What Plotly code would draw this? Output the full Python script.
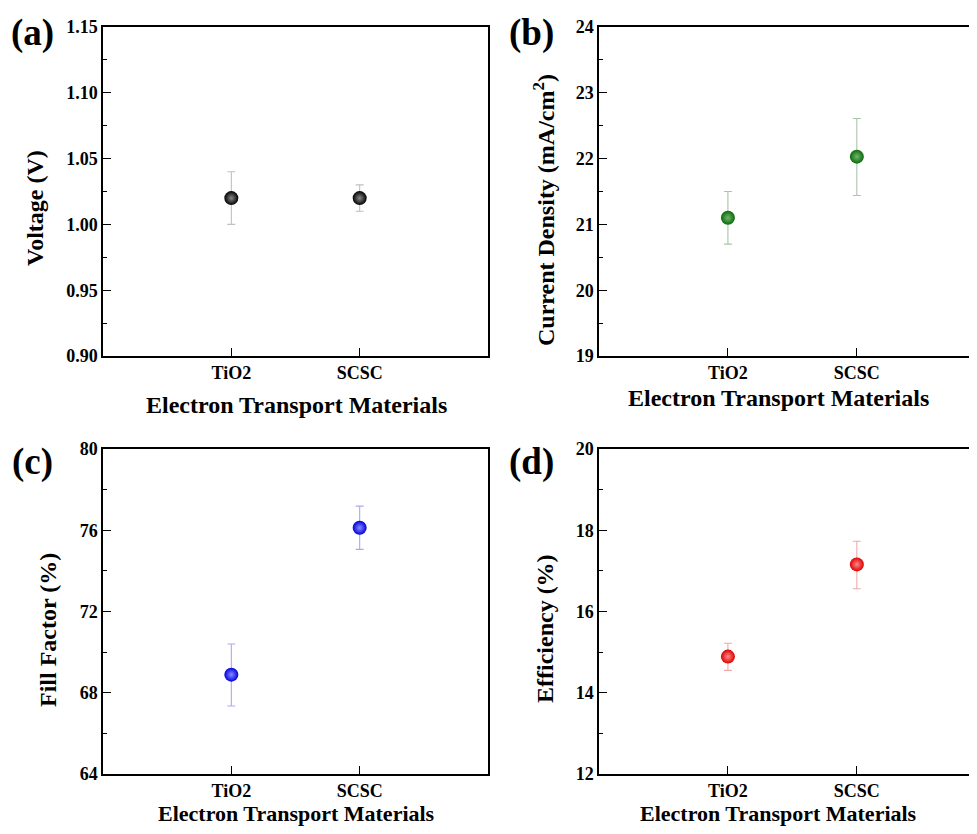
import plotly.graph_objects as go

categories = ["TiO2", "SCSC"]

voltage = [1.02, 1.02]
voltage_hi = [1.04, 1.03]
voltage_lo = [1.00, 1.01]

current = [21.10, 22.03]
current_hi = [21.50, 22.61]
current_lo = [20.70, 21.44]

fill_factor = [68.89, 76.12]
fill_factor_hi = [70.40, 77.19]
fill_factor_lo = [67.35, 75.06]

efficiency = [14.89, 17.16]
efficiency_hi = [15.22, 17.73]
efficiency_lo = [14.55, 16.56]

FONT = "Liberation Serif, Times New Roman, Times, serif"
OFF = 8
W, H = 961, 818


def px(x):
    return (x - OFF) / W


def py(y):
    return 1 - (y - OFF) / H


panels = [
    dict(y=voltage, hi=voltage_hi, lo=voltage_lo, color="#000000", hl="#8a8a8a", err="#c0c0c0",
         yr=[0.90, 1.15], dt=0.05, fmt=".2f", xr=[-1, 2], xd=[103, 488], yd=[27, 356],
         ytitle="Voltage (V)", ytx=35, yty=208, xtx=296, xty=405, xts=24, lab="(a)", labx=32, laby=33),
    dict(y=current, hi=current_hi, lo=current_lo, color="#0a6a0a", hl="#70b870", err="#a9c4a9",
         yr=[19, 24], dt=1, fmt="d", xr=[-1, 1.87], xd=[599, 969], yd=[27, 356],
         ytitle="Current Density (mA/cm<sup>2</sup>)", ytx=544, yty=210, xtx=778, xty=398, xts=24, lab="(b)", labx=531, laby=33),
    dict(y=fill_factor, hi=fill_factor_hi, lo=fill_factor_lo, color="#0000dd", hl="#8a8aff", err="#aaaaee",
         yr=[64, 80], dt=4, fmt="d", xr=[-1, 2], xd=[103, 488], yd=[449, 774],
         ytitle="Fill Factor (%)", ytx=48, yty=630, xtx=296, xty=813, xts=22, lab="(c)", labx=32, laby=462),
    dict(y=efficiency, hi=efficiency_hi, lo=efficiency_lo, color="#dd0000", hl="#ff8a8a", err="#eeaaaa",
         yr=[12, 20], dt=2, fmt="d", xr=[-1, 1.87], xd=[599, 969], yd=[449, 774],
         ytitle="Efficiency (%)", ytx=545, yty=629, xtx=778, xty=813, xts=22, lab="(d)", labx=531, laby=462),
]

fig = go.Figure()
annotations = []
layout = {}
for i, p in enumerate(panels, start=1):
    xa = "x" if i == 1 else f"x{i}"
    ya = "y" if i == 1 else f"y{i}"
    plus = [h - v for h, v in zip(p["hi"], p["y"])]
    minus = [v - l for v, l in zip(p["y"], p["lo"])]
    fig.add_trace(go.Scatter(
        x=categories, y=p["y"], mode="markers", xaxis=xa, yaxis=ya, showlegend=False,
        marker=dict(size=14, color=p["color"], line=dict(width=0),
                    gradient=dict(type="radial", color=p["hl"])),
        error_y=dict(type="data", symmetric=False, array=plus, arrayminus=minus,
                     color=p["err"], thickness=1.1, width=4),
    ))
    axis_common = dict(showline=True, mirror=True, linecolor="black", linewidth=1.5,
                       ticks="inside", ticklen=8, tickwidth=1.2, tickcolor="black",
                       showgrid=False, zeroline=False, automargin=False,
                       tickfont=dict(family=FONT, size=18, color="black", weight="bold"))
    xkey = "xaxis" if i == 1 else f"xaxis{i}"
    ykey = "yaxis" if i == 1 else f"yaxis{i}"
    layout[xkey] = dict(axis_common, type="category", range=p["xr"],
                        domain=[px(p["xd"][0]), px(p["xd"][1])], anchor=ya)
    layout[ykey] = dict(axis_common, range=p["yr"], dtick=p["dt"], tickformat=p["fmt"],
                        domain=[py(p["yd"][1]), py(p["yd"][0])], anchor=xa,
                        minor=dict(ticks="inside", ticklen=4, tickwidth=1.2, tickcolor="black",
                                   dtick=p["dt"] / 2, showgrid=False))
    annotations.append(dict(text=p["ytitle"], x=px(p["ytx"]), y=py(p["yty"]),
                            xref="paper", yref="paper", textangle=-90, showarrow=False,
                            xanchor="center", yanchor="middle",
                            font=dict(family=FONT, size=24, color="black", weight="bold")))
    annotations.append(dict(text="Electron Transport Materials", x=px(p["xtx"]), y=py(p["xty"]),
                            xref="paper", yref="paper", showarrow=False,
                            xanchor="center", yanchor="middle",
                            font=dict(family=FONT, size=p["xts"], color="black", weight="bold")))
    annotations.append(dict(text=p["lab"], x=px(p["labx"]), y=py(p["laby"]),
                            xref="paper", yref="paper", showarrow=False,
                            xanchor="center", yanchor="middle",
                            font=dict(family=FONT, size=37, color="black", weight="bold")))

fig.update_layout(width=W, height=H, margin=dict(l=0, r=0, t=0, b=0),
                  paper_bgcolor="white", plot_bgcolor="white",
                  annotations=annotations, **layout)
fig.write_html("out.html")
